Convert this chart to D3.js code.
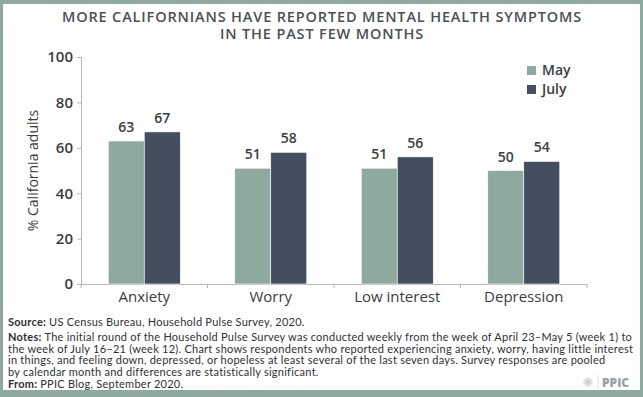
<!DOCTYPE html>
<html>
<head>
<meta charset="utf-8">
<script src="https://cdn.jsdelivr.net/npm/d3@7"></script>
<style>
  body { margin: 0; background: #fff; }
  svg { display: block; font-family: "Open Sans", "Liberation Sans", sans-serif; }
</style>
</head>
<body>
<svg id="chart" width="643" height="397"></svg>
<script>
// Chart data
const categories = ['Anxiety', 'Worry', 'Low interest', 'Depression'];
const seriesNames = ['May', 'July'];
const mayValues = [63, 51, 51, 50];
const julyValues = [67, 58, 56, 54];
const yTicks = [0, 20, 40, 60, 80, 100];

const titleLines = [
    'MORE CALIFORNIANS HAVE REPORTED MENTAL HEALTH SYMPTOMS',
    'IN THE PAST FEW MONTHS'
];
const noteLines = [
    'The initial round of the Household Pulse Survey was conducted weekly from the week of April 23\u2013May 5 (week 1) to',
    'the week of July 16\u201321 (week 12). Chart shows respondents who reported experiencing anxiety, worry, having little interest',
    'in things, and feeling down, depressed, or hopeless at least several of the last seven days. Survey responses are pooled',
    'by calendar month and differences are statistically significant.'
];

const colors = { May: '#8ea99d', July: '#434e5f' };
const frameColor = '#8ea99d';
const textColor = '#3a3d40';

const svg = d3.select('#chart');
const W = 643, H = 397;

// Frame
svg.append('rect').attr('width', W).attr('height', H).attr('fill', frameColor);
svg.append('rect').attr('x', 3).attr('y', 4).attr('width', W - 6).attr('height', H - 11).attr('fill', '#fff');

// Title (two lines, as in the original)
svg.append('g').selectAll('text')
    .data(titleLines)
    .enter()
    .append('text')
    .attr('x', 322)
    .attr('y', (d, i) => 22 + i * 17)
    .attr('text-anchor', 'middle')
    .style('fill', '#4b5053')
    .style('font-size', '14.5px')
    .style('font-weight', 600)
    .style('letter-spacing', '0.85px')
    .text(d => d);

// Scales
const margin = { left: 81, right: 587, top: 57, bottom: 284 };
const x0 = d3.scaleBand().domain(categories).range([margin.left, margin.right]);
const x1 = d3.scaleBand().domain(seriesNames).range([0, 72]);
const y = d3.scaleLinear().domain([0, 100]).range([margin.bottom, margin.top]);

// Y axis
const yAxis = svg.append('g')
    .attr('transform', `translate(${margin.left},0)`)
    .call(d3.axisLeft(y).tickValues(yTicks).tickSize(4).tickPadding(4));
yAxis.select('.domain').attr('stroke', '#b5b5b5');
yAxis.selectAll('.tick line').attr('stroke', '#b5b5b5');
yAxis.selectAll('.tick text')
    .style('fill', textColor)
    .style('font-size', '15px')
    .style('font-weight', 600)
    .style('font-family', '"Open Sans", sans-serif');

svg.append('text')
    .attr('transform', `translate(38,${(margin.top + margin.bottom) / 2}) rotate(-90)`)
    .attr('text-anchor', 'middle')
    .style('fill', textColor)
    .style('font-size', '14px')
    .text('% California adults');

// X axis
const xAxis = svg.append('g')
    .attr('transform', `translate(0,${margin.bottom})`)
    .call(d3.axisBottom(x0).tickSize(0).tickPadding(7));
xAxis.select('.domain').attr('stroke', '#b5b5b5');
xAxis.selectAll('.tick text')
    .style('fill', textColor)
    .style('font-size', '15px')
    .style('font-family', '"Open Sans", sans-serif');

// Category dividers
svg.append('g').selectAll('line')
    .data(categories.concat(['end']))
    .enter()
    .append('line')
    .attr('x1', (d, i) => i < categories.length ? x0(d) : margin.right)
    .attr('x2', (d, i) => i < categories.length ? x0(d) : margin.right)
    .attr('y1', margin.bottom)
    .attr('y2', margin.bottom + 4)
    .attr('stroke', '#b5b5b5');

// Bars
const rows = categories.map((c, i) => ({ cat: c, May: mayValues[i], July: julyValues[i] }));
const groups = svg.append('g').selectAll('g')
    .data(rows)
    .enter()
    .append('g')
    .attr('transform', d => `translate(${x0(d.cat) + x0.bandwidth() / 2 - 36},0)`);

const bars = groups.selectAll('g')
    .data(d => seriesNames.map(s => ({ key: s, value: d[s] })))
    .enter()
    .append('g');

bars.append('rect')
    .attr('x', d => x1(d.key))
    .attr('y', d => y(d.value))
    .attr('width', x1.bandwidth())
    .attr('height', d => y(0) - y(d.value))
    .style('fill', d => colors[d.key])
    .style('stroke', '#fff')
    .style('stroke-width', 0.6);

bars.append('text')
    .attr('x', d => x1(d.key) + x1.bandwidth() / 2)
    .attr('y', d => y(d.value) - 9)
    .attr('text-anchor', 'middle')
    .style('fill', textColor)
    .style('font-size', '14px')
    .style('font-weight', 600)
    .text(d => d.value);

// Legend
const legend = svg.append('g').attr('transform', 'translate(527,66)');
const legendItems = legend.selectAll('g')
    .data(seriesNames)
    .enter()
    .append('g')
    .attr('transform', (d, i) => `translate(0,${i * 19})`);
legendItems.append('rect')
    .attr('width', 9).attr('height', 9)
    .style('fill', d => colors[d]);
legendItems.append('text')
    .attr('x', 15).attr('y', 9)
    .style('fill', textColor)
    .style('font-size', '14px')
    .style('font-weight', 600)
    .text(d => d);

// Footnotes
const foot = svg.append('g')
    .style('font-family', 'Lato, "Open Sans", sans-serif')
    .style('font-size', '11px')
    .style('letter-spacing', '0.25px')
    .style('fill', '#2f3133');
const src = foot.append('text').attr('x', 8).attr('y', 326);
src.append('tspan').style('font-weight', 700).text('Source: ');
src.append('tspan').text('US Census Bureau, Household Pulse Survey, 2020.');

foot.selectAll('.note')
    .data(noteLines)
    .enter()
    .append('text')
    .attr('class', 'note')
    .attr('x', 8)
    .attr('y', (d, i) => 341 + i * 11.7)
    .each(function (d, i) {
        const t = d3.select(this);
        if (i === 0) t.append('tspan').style('font-weight', 700).text('Notes: ');
        t.append('tspan').text(d);
    });

const from = foot.append('text').attr('x', 8).attr('y', 388);
from.append('tspan').style('font-weight', 700).text('From: ');
from.append('tspan').text('PPIC Blog, September 2020.');

// PPIC logo
const logo = svg.append('g').attr('transform', 'translate(588,382)');
d3.range(12).forEach(i => {
    const a = i * Math.PI / 6;
    logo.append('line')
        .attr('x1', 0).attr('y1', 0)
        .attr('x2', 5 * Math.cos(a)).attr('y2', 5 * Math.sin(a))
        .attr('stroke', '#c5c9cc').attr('stroke-width', 1);
});
logo.append('line').attr('x1', 10).attr('x2', 10).attr('y1', -7).attr('y2', 7).attr('stroke', '#e0e0e0');
logo.append('text')
    .attr('x', 14).attr('y', 5)
    .style('fill', '#9aa0a4')
    .style('font-size', '12px')
    .style('font-weight', 800)
    .text('PPIC');
</script>
</body>
</html>
